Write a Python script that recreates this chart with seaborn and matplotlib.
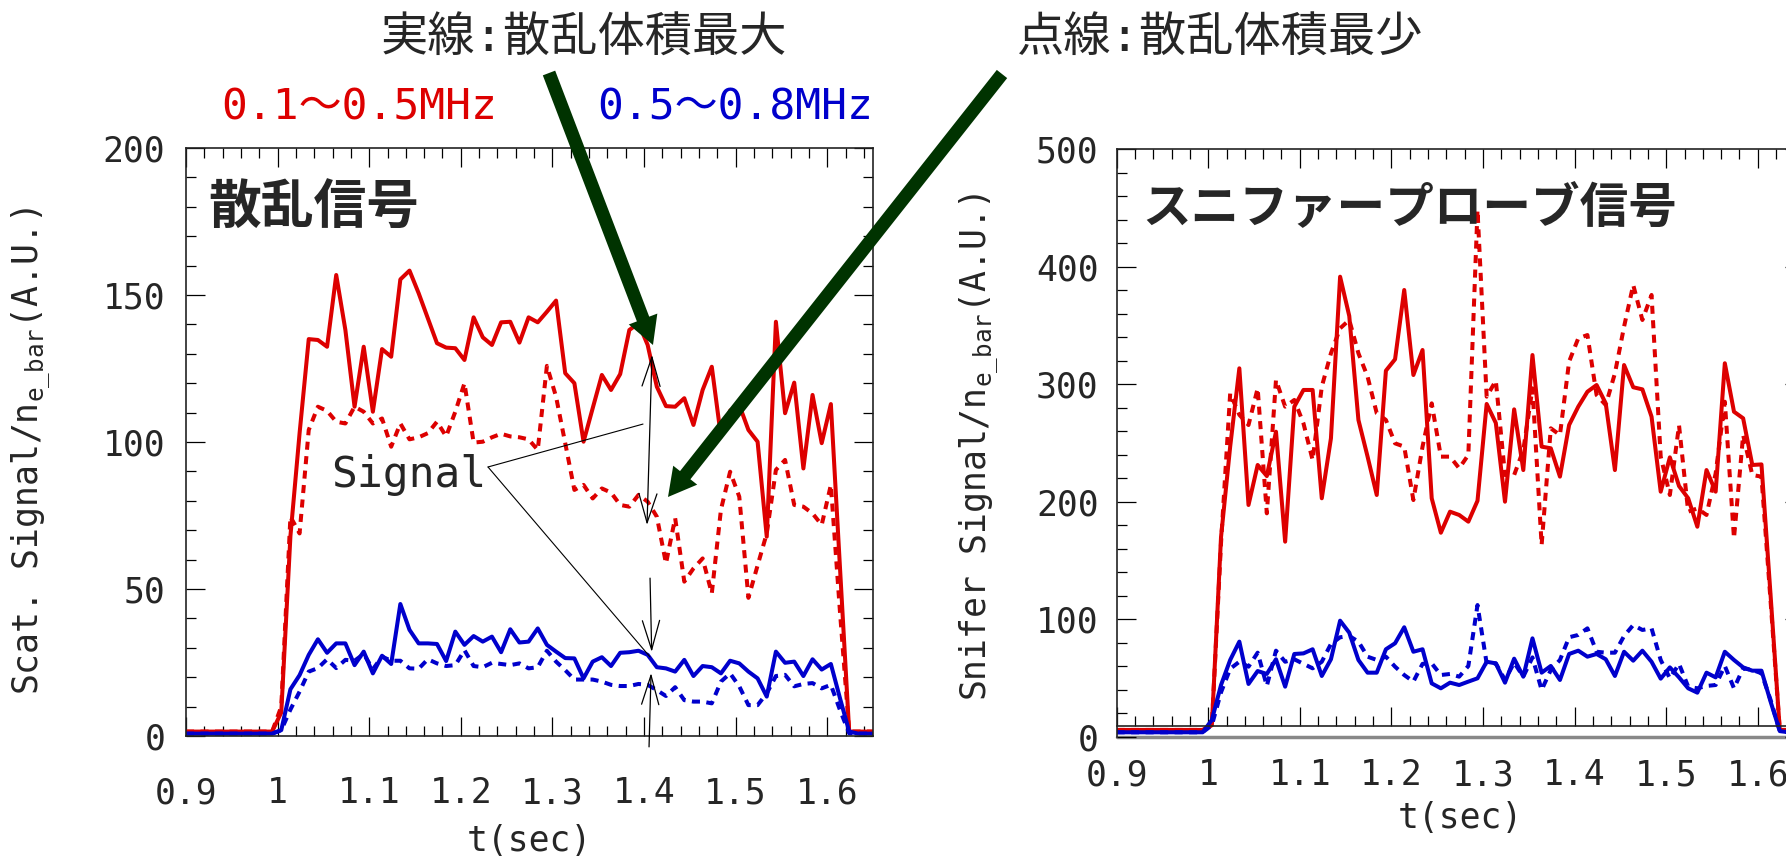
import numpy as np
import pandas as pd
import matplotlib
matplotlib.use("Agg")
import matplotlib.pyplot as plt
from matplotlib.ticker import MultipleLocator, FuncFormatter
import seaborn as sns

# ---------------- data ----------------
# sample times (s): 0.90, then every 10 ms from 0.904 to 1.644, then 1.65
T = np.round(np.concatenate([[0.90], np.arange(0.904, 1.6445, 0.01), [1.65]]), 3)

# plasma-phase samples (t = 1.004 ... 1.624)
L_RED_SOLID = [8, 68, 103, 135, 134.7, 132.4, 156.8, 138.1, 112.0, 132.4, 110.3, 131.6, 129.0,
               155.3, 158.3, 150.6, 142.1, 133.6, 132.1, 131.9, 127.9, 142.4, 135.6, 133.0, 140.7,
               140.9, 133.8, 142.4, 140.7, 144.3, 148.1, 123.4, 120.0, 100.1, 111.5, 122.8, 117.7,
               123.1, 138.1, 140.4, 133.0, 118.8, 112.2, 112.0, 114.9, 105.8, 117.7, 125.6, 101.8,
               110.7, 112.6, 104.1, 100.1, 67.8, 140.9, 109.8, 120.2, 91.0, 116.0, 99.6, 112.9, 57, 1.5]
L_RED_DOT = [10, 74.6, 68.9, 104.1, 112.0, 110.6, 106.9, 106.3, 112.0, 110.3, 106.3, 108.0, 98.4,
             106.3, 100.9, 101.6, 103.0, 106.9, 101.9, 110.3, 120.0, 99.8, 100.1, 101.6, 102.8,
             101.9, 101.6, 100.9, 97.3, 125.9, 115.4, 99.6, 83.7, 85.4, 80.8, 84.2, 82.8, 78.6,
             78.0, 82.0, 79.7, 74.6, 58.7, 74.1, 52.5, 57.0, 60.4, 48.5, 77, 89.9, 81.4, 47, 58,
             68.9, 90.5, 93.9, 78.6, 78.0, 75.7, 71.8, 85.4, 42, 1.5]
L_BLUE_SOLID = [2, 15.9, 20.7, 27.6, 32.9, 28.3, 31.5, 31.5, 24.1, 28.7, 21.3, 27.3, 24.5, 44.9,
                36.1, 31.5, 31.5, 31.3, 25.5, 35.5, 31.0, 34.0, 32.1, 33.8, 28.5, 36.3, 31.8, 32.1,
                36.6, 31.0, 28.7, 26.5, 26.4, 19.6, 25.3, 26.8, 23.8, 28.3, 28.5, 29.0, 27.6, 23.4,
                23.0, 21.9, 25.9, 20.4, 23.8, 23.4, 21.3, 25.6, 24.7, 21.9, 19.6, 13.4, 28.7, 24.9,
                25.3, 20.4, 26.1, 22.6, 24.5, 12.8, 1.5]
L_BLUE_DOT = [2, 9, 15.1, 21.9, 23.1, 26.1, 23.1, 25.9, 25.6, 27.9, 22.7, 27.0, 25.6, 25.6, 23.0,
              22.9, 26.1, 24.7, 23.8, 24.1, 29.2, 23.8, 23.4, 24.9, 24.5, 24.1, 24.7, 23.0, 23.4,
              29.0, 25.3, 22.4, 19.2, 19.2, 19.2, 18.5, 17.4, 17.0, 17.0, 17.7, 17.4, 15.6, 13.6,
              16.6, 12.2, 11.7, 11.7, 11.1, 18.5, 21.3, 16.9, 10.5, 10.5, 14.5, 20.4, 20.8, 16.9,
              17.7, 18.0, 16.2, 17.4, 8.8, 0.9]

R_RED_SOLID = [10, 170, 247, 313.5, 197.3, 231.3, 221.9, 259.6, 166.1, 280.9, 295.1, 295.1, 203.0,
               254.0, 391.4, 358.0, 269.6, 238.4, 205.8, 311.5, 321.2, 380.1, 307.8, 329.1, 203.0,
               173.7, 191.6, 188.8, 183.1, 200.9, 283.2, 267.0, 200.1, 278.6, 227.0, 324.8, 246.9,
               245.5, 221.4, 265.3, 280.9, 293.6, 299.3, 283.7, 227.0, 316.3, 297.4, 295.6, 272.4,
               208.6, 237.8, 213.4, 203.0, 178.8, 227.0, 208.6, 317.8, 276.6, 271.0, 231.3, 231.8,
               120, 6]
R_RED_DOT = [10, 165, 292.2, 274, 265.3, 296.5, 190.2, 303.6, 280.9, 286.6, 266.7, 235.5, 297.9,
             326.3, 347.5, 354.6, 326.3, 306.4, 275.3, 269.6, 249.7, 246.9, 201.5, 246.9, 283.7,
             238.4, 238.4, 228.5, 239.9, 448.1, 289.4, 303, 222.8, 222.8, 244.0, 296.5, 163.3,
             262.5, 256.8, 319.2, 339.0, 341.8, 290.8, 282.3, 309.2, 348.9, 384.4, 354.6, 375.9,
             238.4, 205.8, 265, 191.6, 194.4, 188.8, 224.2, 285.1, 168.9, 256.8, 222.8, 221.4, 115, 6]
R_BLUE_SOLID = [14.5, 44.2, 65.5, 81.1, 45.1, 56.1, 53.6, 66.1, 42.8, 70.6, 71.1, 74.6, 51.9, 66.1,
                98.9, 88.7, 65.5, 54.7, 54.7, 74.6, 79.7, 93.3, 72.5, 74.6, 45.6, 41.4, 46.2, 44.2,
                47.1, 49.9, 64.0, 62.6, 46.2, 66.6, 51.3, 83.9, 54.7, 60.4, 48.5, 70.6, 73.4, 68.3,
                70.6, 66.1, 51.9, 72.5, 64.9, 73.4, 64.0, 49.6, 59.2, 50.7, 41.4, 37.7, 54.7, 50.7,
                72.5, 65.5, 59.2, 56.4, 56.4, 30.0, 5]
R_BLUE_DOT = [10, 38, 58, 64.0, 59.8, 71.7, 43.4, 73.4, 64.0, 66.1, 62.2, 58.4, 64.0, 79.1, 84.8,
              85.9, 81.1, 68.3, 65.5, 68.3, 59.8, 52.7, 47.1, 62.2, 62.6, 52.7, 53.6, 51.3, 60.4,
              112.2, 62.6, 62.6, 48.5, 63.2, 51.3, 67.7, 40.0, 57.0, 65.5, 84.8, 86.8, 92.4, 72.5,
              71.7, 71.7, 85.9, 95.2, 91.0, 92.4, 65.5, 49.9, 62.2, 42.8, 41.4, 43.4, 44.2, 60.4,
              41.4, 58.4, 57.0, 54.2, 31.4, 5]

# baseline levels before / after the discharge
L_RED_BASE, L_BLUE_BASE = 1.5, 0.8
R_RED_BASE, R_BLUE_BASE = 6, 4

X_TICKS = [0.9, 1.0, 1.1, 1.2, 1.3, 1.4, 1.5, 1.6]

RED = "#DD0000"
BLUE = "#0000CC"
GREEN = "#003300"


def full(base, vals):
    return [base] * 11 + list(vals) + [base] * 3


# ---------------- style ----------------
sns.set_style("ticks")
plt.rcParams["font.family"] = ["DejaVu Sans Mono", "Noto Sans CJK JP"]
plt.rcParams["mathtext.fontset"] = "custom"
plt.rcParams["mathtext.rm"] = "DejaVu Sans Mono"
plt.rcParams["mathtext.it"] = "DejaVu Sans Mono"
plt.rcParams["axes.unicode_minus"] = False

W, H = 1786, 859
fig = plt.figure(figsize=(W / 100, H / 100), dpi=100)
axL = fig.add_axes([186 / W, 123 / H, 687 / W, 588 / H])
axR = fig.add_axes([1116.6 / W, 122 / H, 687 / W, 588 / H])

DOT = (0, (2.0, 1.6))
LW = 2.9


def draw(ax, vals, color, ls):
    df = pd.DataFrame({"t": T, "v": vals})
    sns.lineplot(data=df, x="t", y="v", ax=ax, color=color, linewidth=LW,
                 linestyle=ls, errorbar=None, sort=False)


draw(axL, full(L_RED_BASE, L_RED_SOLID), RED, "-")
draw(axL, full(L_RED_BASE, L_RED_DOT), RED, DOT)
draw(axL, full(L_BLUE_BASE, L_BLUE_SOLID), BLUE, "-")
draw(axL, full(L_BLUE_BASE, L_BLUE_DOT), BLUE, DOT)

draw(axR, full(R_RED_BASE, R_RED_SOLID), RED, "-")
draw(axR, full(R_RED_BASE, R_RED_DOT), RED, DOT)
draw(axR, full(R_BLUE_BASE, R_BLUE_SOLID), BLUE, "-")
draw(axR, full(R_BLUE_BASE, R_BLUE_DOT), BLUE, DOT)

fmt = FuncFormatter(lambda v, p: ("%.2f" % v).rstrip("0").rstrip("."))

for ax, ymax, ymaj, ymin in [(axL, 200, 50, 10), (axR, 500, 100, 20)]:
    ax.set_xlim(0.9, 1.65)
    ax.set_ylim(0, ymax)
    ax.set_xticks(X_TICKS)
    ax.xaxis.set_minor_locator(MultipleLocator(0.02))
    ax.yaxis.set_major_locator(MultipleLocator(ymaj))
    ax.yaxis.set_minor_locator(MultipleLocator(ymin))
    ax.xaxis.set_major_formatter(fmt)
    ax.tick_params(which="both", direction="in", top=True, right=True,
                   color="black", width=0.9, labelsize=25)
    ax.tick_params(which="major", length=14)
    ax.tick_params(which="minor", length=7)
    for s in ax.spines.values():
        s.set_color("#222222")
        s.set_linewidth(1.2)

axL.tick_params(axis="x", which="major", pad=29)
axL.tick_params(axis="y", which="major", pad=15)
axR.tick_params(axis="x", which="major", pad=23)
axR.tick_params(axis="y", which="major", pad=13)

# right panel: the time axis line sits a little above zero
axR.spines["bottom"].set_position(("data", 9))
axR.axhline(0, color="#888888", lw=2.5, clip_on=False, zorder=0.5)

axL.set_xlabel("t(sec)", fontsize=25)
axR.set_xlabel("t(sec)", fontsize=25)
axL.xaxis.set_label_coords(0.5, -0.15)
axR.xaxis.set_label_coords(0.5, -0.108)

axL.set_ylabel(r"Scat. Signal/n$_{\mathrm{e\_bar}}$(A.U.)", fontsize=25)
axR.set_ylabel(r"Snifer Signal/n$_{\mathrm{e\_bar}}$(A.U.)", fontsize=25)
axL.yaxis.set_label_coords(-0.195, 0.485)
axR.yaxis.set_label_coords(-0.17, 0.493)

# panel titles inside the frames
axL.text(0.032, 0.898, "散乱信号", transform=axL.transAxes, fontsize=38,
         fontweight="bold", family=["Noto Sans CJK JP"], ha="left", va="center")
axR.text(0.037, 0.901, "スニファープローブ信号", transform=axR.transAxes, fontsize=35,
         fontweight="bold", family=["Noto Sans CJK JP"], ha="left", va="center")

# figure-level captions
fig.text(584 / W, 1 - 39 / H, "実線:散乱体積最大", fontsize=34, ha="center", va="center")
fig.text(1220 / W, 1 - 39 / H, "点線:散乱体積最少", fontsize=34, ha="center", va="center")
fig.text(359 / W, 1 - 108 / H, "0.1～0.5MHz", fontsize=31, color=RED, ha="center", va="center")
fig.text(735 / W, 1 - 108 / H, "0.5～0.8MHz", fontsize=31, color=BLUE, ha="center", va="center")

# "Signal" annotation
axL.text(1.0583, 88.8, "Signal", fontsize=31, ha="left", va="center")
for tip in [(1.3989, 106.1), (1.4066, 26.9)]:
    axL.annotate("", xy=tip, xytext=(1.2297, 91.5),
                 arrowprops=dict(arrowstyle="-", lw=0.8, color="black",
                                 shrinkA=0, shrinkB=0))

# double arrow between red solid and dotted at t = 1.4
axL.annotate("", xy=(1.4033, 71.8), xytext=(1.4087, 129.6),
             arrowprops=dict(arrowstyle="<->,head_length=2.1,head_width=0.65",
                             mutation_scale=10, lw=0.9, color="black",
                             shrinkA=0, shrinkB=0))
# arrows pointing at blue solid / dotted at t = 1.4
axL.annotate("", xy=(1.4084, 28.6), xytext=(1.4066, 53.7),
             arrowprops=dict(arrowstyle="->,head_length=2.1,head_width=0.62",
                             mutation_scale=10, lw=0.9, color="black",
                             shrinkA=0, shrinkB=0))
axL.annotate("", xy=(1.4077, 21.4), xytext=(1.4055, -3.7),
             arrowprops=dict(arrowstyle="->,head_length=2.1,head_width=0.62",
                             mutation_scale=10, lw=0.9, color="black",
                             shrinkA=0, shrinkB=0), annotation_clip=False)

# thick green arrows from the captions
for tip, start in [((1.4098, 133.0), (549 / W, 1 - 73 / H)),
                   ((1.4262, 81.3), (1002 / W, 1 - 74 / H))]:
    axL.annotate("", xy=tip, xycoords="data", xytext=start, textcoords="figure fraction",
                 arrowprops=dict(arrowstyle="simple,head_length=2.0,head_width=2.2,tail_width=0.95",
                                 mutation_scale=10, color=GREEN, lw=0,
                                 shrinkA=0, shrinkB=0), annotation_clip=False)

fig.savefig("out.png", dpi=100)
